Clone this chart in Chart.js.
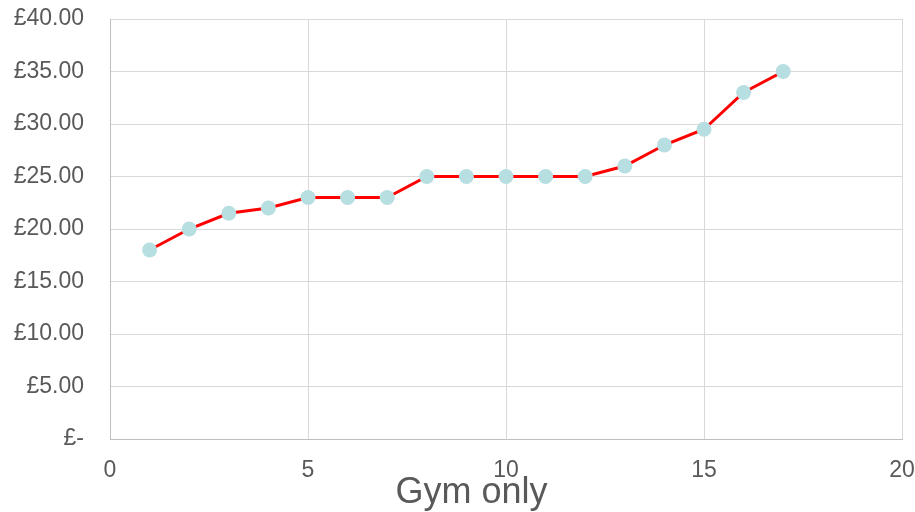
<!DOCTYPE html>
<html>
<head>
<meta charset="utf-8">
<script src="https://cdn.jsdelivr.net/npm/chart.js@4/dist/chart.umd.min.js"></script>
<style>
  html, body { margin: 0; padding: 0; background: #ffffff; }
  #wrap { width: 915px; height: 512px; position: relative; }
</style>
</head>
<body>
<div id="wrap"><canvas id="c" width="915" height="512"></canvas></div>
<script>
const xValues = [1, 2, 3, 4, 5, 6, 7, 8, 9, 10, 11, 12, 13, 14, 15, 16, 17];
const prices = [18, 20, 21.5, 22, 23, 23, 23, 25, 25, 25, 25, 25, 26, 28, 29.5, 33, 35];
const axisTitle = "Gym only";
const xMin = 0, xMax = 20, xStep = 5;
const yMin = 0, yMax = 40, yStep = 5;

const points = xValues.map((x, i) => ({ x: x, y: prices[i] }));

function formatPound(v) {
  if (v === 0) return "£-";
  return "£" + v.toFixed(2);
}

// Shift the title block's horizontal span so it is centred like the original.
const titleShift = {
  id: "titleShift",
  afterLayout(chart) {
    if (chart.titleBlock) { chart.titleBlock.left = 41; }
  }
};

new Chart(document.getElementById("c"), {
  type: "scatter",
  data: {
    datasets: [{
      data: points,
      showLine: true,
      borderColor: "#FF0000",
      borderWidth: 3,
      pointRadius: 7.5,
      pointHoverRadius: 7.5,
      pointBackgroundColor: "#B7DEE1",
      pointBorderWidth: 0,
      pointBorderColor: "#B7DEE1",
      tension: 0
    }]
  },
  plugins: [titleShift],
  options: {
    responsive: false,
    animation: false,
    layout: { padding: { left: 0, top: 19, right: 13, bottom: 0 } },
    plugins: {
      legend: { display: false },
      tooltip: { enabled: false },
      title: {
        display: true, position: "bottom", text: axisTitle, color: "#595959",
        font: { family: "Liberation Sans, Arial", size: 36, weight: "normal", lineHeight: 17 / 36 },
        padding: { top: 5, bottom: 10 }
      }
    },
    scales: {
      x: {
        type: "linear",
        min: xMin, max: xMax,
        ticks: { stepSize: xStep, color: "#595959", font: { family: "Liberation Sans, Arial", size: 23 }, padding: 18 },
        grid: { color: "#D9D9D9", drawTicks: false, lineWidth: 1 },
        border: { color: "#BFBFBF", width: 1 },
        afterFit: s => { s.height = 41; s.paddingLeft = 0; s.paddingRight = 0; }
      },
      y: {
        type: "linear",
        min: yMin, max: yMax,
        ticks: { stepSize: yStep, color: "#595959", font: { family: "Liberation Sans, Arial", size: 23 }, padding: 26, callback: v => formatPound(v) },
        grid: { color: "#D9D9D9", drawTicks: false, lineWidth: 1 },
        border: { color: "#BFBFBF", width: 1 },
        afterFit: s => { s.width = 110; s.paddingTop = 0; s.paddingBottom = 0; }
      }
    }
  }
});
</script>
</body>
</html>
